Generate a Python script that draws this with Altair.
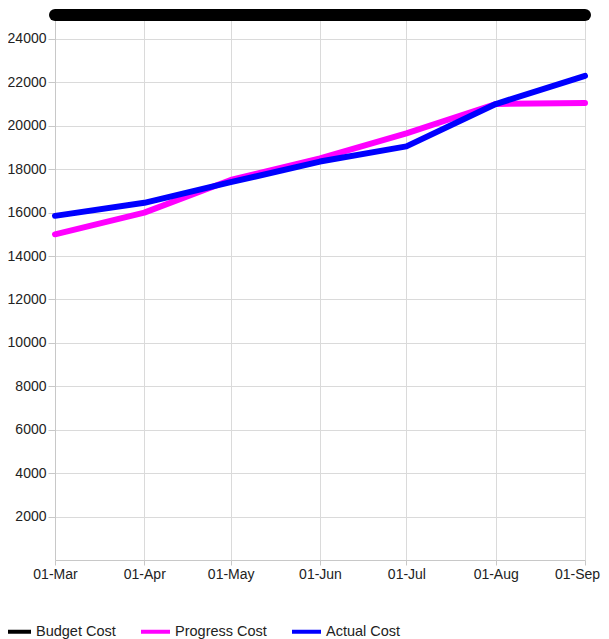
import altair as alt
import pandas as pd

months = ["2023-03-01", "2023-04-01", "2023-05-01", "2023-06-01",
          "2023-07-01", "2023-08-01", "2023-09-01"]
budget_cost = [25100, 25100, 25100, 25100, 25100, 25100, 25100]
progress_cost = [15000, 16000, 17500, 18500, 19650, 21000, 21050]
actual_cost = [15850, 16450, 17400, 18350, 19050, 21000, 22300]
series_names = ["Budget Cost", "Progress Cost", "Actual Cost"]
series_colors = ["#000000", "#ff00ff", "#0000ff"]
y_ticks = [2000, 4000, 6000, 8000, 10000, 12000, 14000, 16000, 18000,
           20000, 22000, 24000]

rows = []
for name, vals in zip(series_names, [budget_cost, progress_cost, actual_cost]):
    for m, v in zip(months, vals):
        rows.append({"month": m, "cost": v, "series": name})
df = pd.DataFrame(rows)

color = alt.Color(
    "series:N",
    scale=alt.Scale(domain=series_names, range=series_colors),
    title=None,
    legend=alt.Legend(
        orient="none", legendX=-55, legendY=600, direction="horizontal",
        symbolType="stroke", symbolSize=841, symbolStrokeWidth=4,
        labelFontSize=14.5, labelFont="Liberation Sans", labelColor="#222222",
        labelOffset=3, columnPadding=17, padding=0,
    ),
)

x = alt.X(
    "month:T",
    scale=alt.Scale(domain=[months[0], months[-1]], nice=False),
    axis=alt.Axis(format="%d-%b", values=months, title=None, labelPadding=2,
                  tickSize=5, labelFlush=False,
                  labelOffset={"condition": {"test": "datum.index > 0.99",
                                             "value": -8},
                               "value": 0}),
)
y = alt.Y(
    "cost:Q",
    scale=alt.Scale(domain=[0, 25100], nice=False),
    axis=alt.Axis(values=y_ticks, format="d", title=None, tickSize=7,
                  labelPadding=2),
)

layers = []
for name, sw in zip(series_names, [12, 6, 6]):
    layers.append(
        alt.Chart(df)
        .transform_filter(alt.datum.series == name)
        .mark_line(strokeWidth=sw, strokeCap="round", strokeJoin="round")
        .encode(x=x, y=y, color=color)
    )

chart = (
    alt.layer(*layers)
    .properties(width=530, height=545,
                padding={"left": 47, "top": 7, "right": 16, "bottom": 79},
                autosize=alt.AutoSizeParams(type="none"))
    .configure_view(stroke=None)
    .configure_axis(
        labelFont="Liberation Sans", labelFontSize=14, labelColor="#222222",
        gridColor="#dadada", domainColor="#c8c8c8", tickColor="#c8c8c8",
        gridWidth=1,
    )
)

chart.save("out.html", embed_options={"renderer": "svg", "actions": False})
